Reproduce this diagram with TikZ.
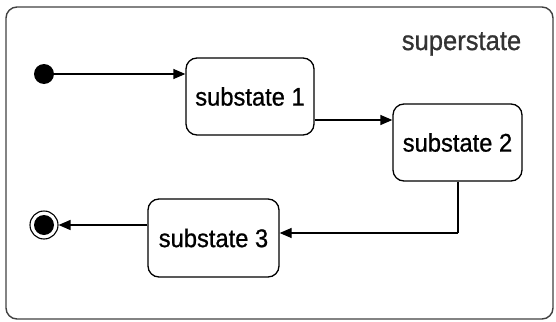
\documentclass[tikz,border=0pt]{standalone}
\usepackage{fontspec}
\setmainfont{Liberation Sans}[FakeStretch=0.93, FakeBold=0.8]
\usetikzlibrary{arrows.meta}
\begin{document}
\begin{tikzpicture}[x=1pt,y=-1pt,
  statebox/.style={draw=black, line width=1.3pt, rounded corners=11pt, minimum width=#1, inner sep=0pt, font=\fontsize{25.5}{28}\selectfont},
  conn/.style={line width=1.3pt, -{Triangle[length=12pt,width=10pt]}},
  frame/.style={draw=black!75, line width=1.4pt, rounded corners=11pt}]
\useasboundingbox (0,0) rectangle (556,321);
\draw[frame] (6,7) rectangle (553,319);
\node[font=\fontsize{27.5}{30}\selectfont, text=black!80] (sup) at (461.5,44) {superstate};
\node[statebox=128pt, minimum height=77pt] (s1) at (250,96.5) {substate 1};
\node[statebox=129pt, minimum height=77pt] (s2) at (457.5,142.5) {substate 2};
\node[statebox=131pt, minimum height=78pt] (s3) at (213.5,238) {substate 3};
\node[circle, fill=black, minimum size=20pt, inner sep=0pt] (init) at (44,74) {};
\node[circle, draw=black, line width=1.1pt, minimum size=28pt, inner sep=0pt] (fin) at (44,225) {};
\node[circle, fill=black, minimum size=20pt, inner sep=0pt] (finin) at (fin.center) {};
\draw[conn] (init) -- (s1.west |- init);
\coordinate (a1) at (s1.east |- 0,120);
\draw[conn] (a1) -- (s2.west |- a1);
\coordinate (b1) at (458,233);
\draw[line width=1.3pt] (s2.south -| b1) -- (b1);
\draw[conn] (b1) -- (s3.east |- b1);
\coordinate (c1) at (s3.west |- 0,225);
\draw[conn] (c1) -- (fin.east |- c1);
\end{tikzpicture}
\end{document}
